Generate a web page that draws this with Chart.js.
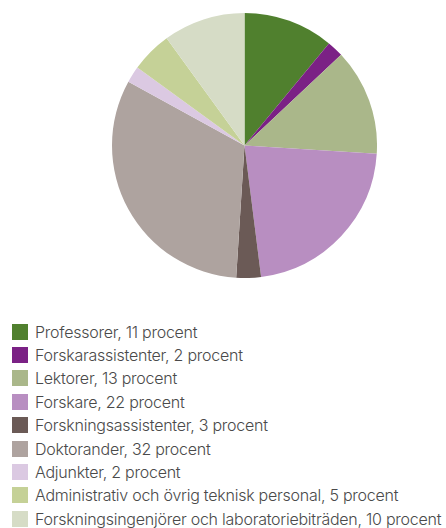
<!DOCTYPE html>
<html>
<head>
<meta charset="utf-8">
<script src="https://cdn.jsdelivr.net/npm/chart.js@4"></script>
<style>
  html, body { margin: 0; padding: 0; background: #fff; }
  body { width: 446px; height: 528px; position: relative; overflow: hidden; font-family: "Inter", sans-serif; }
  #pieBox { position: absolute; left: 112px; top: 13px; width: 265px; height: 265px; }
  #legend { position: absolute; left: 12px; top: 320px; margin: 0; padding: 0; list-style: none; }
  #legend li { display: flex; align-items: center; height: 23.4px; font-size: 16px; font-weight: 300; letter-spacing: -0.25px; color: #4a4a4a; white-space: nowrap; }
  #legend span.box { display: inline-block; width: 16px; height: 16px; margin-right: 7px; flex: none; }
</style>
</head>
<body>
<div id="pieBox"><canvas id="pie"></canvas></div>
<ul id="legend"></ul>
<script>
// Personalkategorier och andel i procent
const categories = [
  "Professorer",
  "Forskarassistenter",
  "Lektorer",
  "Forskare",
  "Forskningsassistenter",
  "Doktorander",
  "Adjunkter",
  "Administrativ och övrig teknisk personal",
  "Forskningsingenjörer och laboratoriebiträden"
];
const shares = [11, 2, 13, 22, 3, 32, 2, 5, 10];
const sliceColors = [
  "#50802e", "#7b2185", "#aab78a", "#b88ec1", "#6b5a56",
  "#aea39f", "#dbc9e2", "#c5d197", "#d6dcc6"
];

const chart = new Chart(document.getElementById("pie"), {
  type: "pie",
  data: {
    labels: categories,
    datasets: [{
      data: shares,
      backgroundColor: sliceColors,
      borderWidth: 0
    }]
  },
  options: {
    responsive: true,
    maintainAspectRatio: false,
    animation: false,
    plugins: { legend: { display: false }, tooltip: { enabled: false } }
  }
});

// Legend list built from the chart data
const legend = document.getElementById("legend");
chart.data.labels.forEach((label, i) => {
  const li = document.createElement("li");
  const box = document.createElement("span");
  box.className = "box";
  box.style.background = chart.data.datasets[0].backgroundColor[i];
  li.appendChild(box);
  li.appendChild(document.createTextNode(label + ", " + chart.data.datasets[0].data[i] + " procent"));
  legend.appendChild(li);
});
</script>
</body>
</html>
